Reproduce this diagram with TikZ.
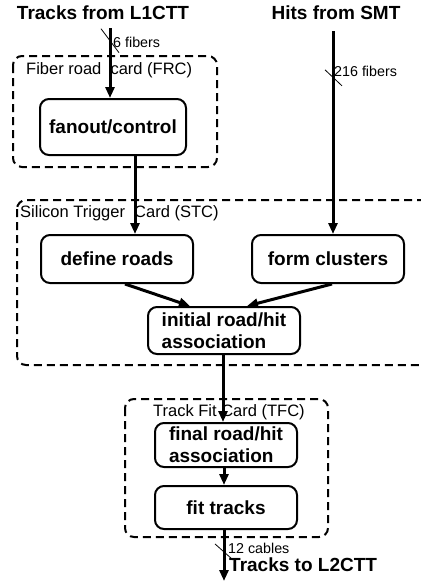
\documentclass[tikz,border=0pt]{standalone}
\usepackage{fontspec}
\setmainfont{Liberation Sans}
\usetikzlibrary{arrows.meta,positioning,calc}
\tikzset{stage/.style={draw,line width=2pt,rounded corners=9pt,align=center,
  font=\fontsize{19}{22}\selectfont\bfseries,inner sep=2pt},
  card/.style={draw,line width=2pt,dash pattern=on 8pt off 5pt,rounded corners=9pt},
  cardlabel/.style={font=\fontsize{16.5}{19}\selectfont,inner sep=0pt,anchor=west},
  heading/.style={font=\fontsize{19}{22}\selectfont\bfseries,inner sep=0pt},
  note/.style={font=\fontsize{14.3}{16}\selectfont,inner sep=0pt,anchor=west},
  flow/.style={-{Triangle[length=11pt,width=9pt]},line width=3pt},
  bundle/.style={line width=0.8pt}}
\begin{document}
\begin{tikzpicture}[x=1pt,y=-1pt]
\useasboundingbox (0,0) rectangle (421,582);
% cards
\draw[card] (13,56) rectangle (217,167);
\draw[card] (17,200) rectangle (450,365);
\draw[card] (125,399) rectangle (328,537);
\node[cardlabel] (frclab) at (26,70) {Fiber road\ \ card (FRC)};
\node[cardlabel] (stclab) at (20,213) {Silicon Trigger\ \ Card (STC)};
\node[cardlabel] (tfclab) at (153,412) {Track Fit Card (TFC)};
% processing stages
\node[stage,minimum width=146pt,minimum height=56pt] (fanout) at (113,127) {fanout/control};
\node[stage,minimum width=152pt,minimum height=48pt] (define) at (117,259) {define roads};
\node[stage,minimum width=152pt,minimum height=48pt,right=57pt of define] (form) {form clusters};
\node[stage,minimum width=152pt,minimum height=47pt,align=left] (initial) at (224,330.5) {initial road/hit\\association};
\node[stage,minimum width=142pt,minimum height=44pt,align=left] (final) at (226,445) {final road/hit\\association};
\node[stage,minimum width=142pt,minimum height=43pt,below=17pt of final] (fit) {fit tracks};
% inputs and output
\node[heading] (l1ctt) at (103,13) {Tracks from L1CTT};
\node[heading] (smt) at (336,13) {Hits from SMT};
\node[heading,anchor=west] (l2ctt) at (229,565) {Tracks to L2CTT};
\coordinate (out) at (224,581);
% connections
\draw[flow] ([xshift=-3pt,yshift=-8pt]fanout.north |- l1ctt.south) -- coordinate[pos=0.18] (t1) ([xshift=-3pt]fanout.north);
\draw[flow] ([xshift=5pt,yshift=-11pt]form.north |- smt.south) -- coordinate[pos=0.23] (t2) ([xshift=5pt]form.north);
\draw[flow] ([xshift=22pt]fanout.south) -- ([xshift=22pt]fanout.south |- define.north);
\draw[flow] ([xshift=8pt]define.south) -- ([xshift=-34pt]initial.north);
\draw[flow] ([xshift=4pt]form.south) -- ([xshift=23pt]initial.north);
\draw[flow] ([xshift=-1pt]initial.south) -- ([xshift=-1pt]initial.south |- final.north);
\draw[flow] ([xshift=-2pt]final.south) -- ([xshift=-2pt]final.south |- fit.north);
\draw[flow] (fit.south -| out) -- coordinate[pos=0.43] (t3) (out);
% bundle marks
\draw[bundle] ($(t1)+(-9,-12)$) -- ($(t1)+(9,12)$);
\draw[bundle] ($(t2)+(-8,-8)$) -- ($(t2)+(9,8)$);
\draw[bundle] ($(t3)+(-9,-8)$) -- ($(t3)+(9,8)$);
\node[note] at (113,42) {6 fibers};
\node[note] at (334,71.5) {216 fibers};
\node[note] at (228,548) {12 cables};
\end{tikzpicture}
\end{document}
